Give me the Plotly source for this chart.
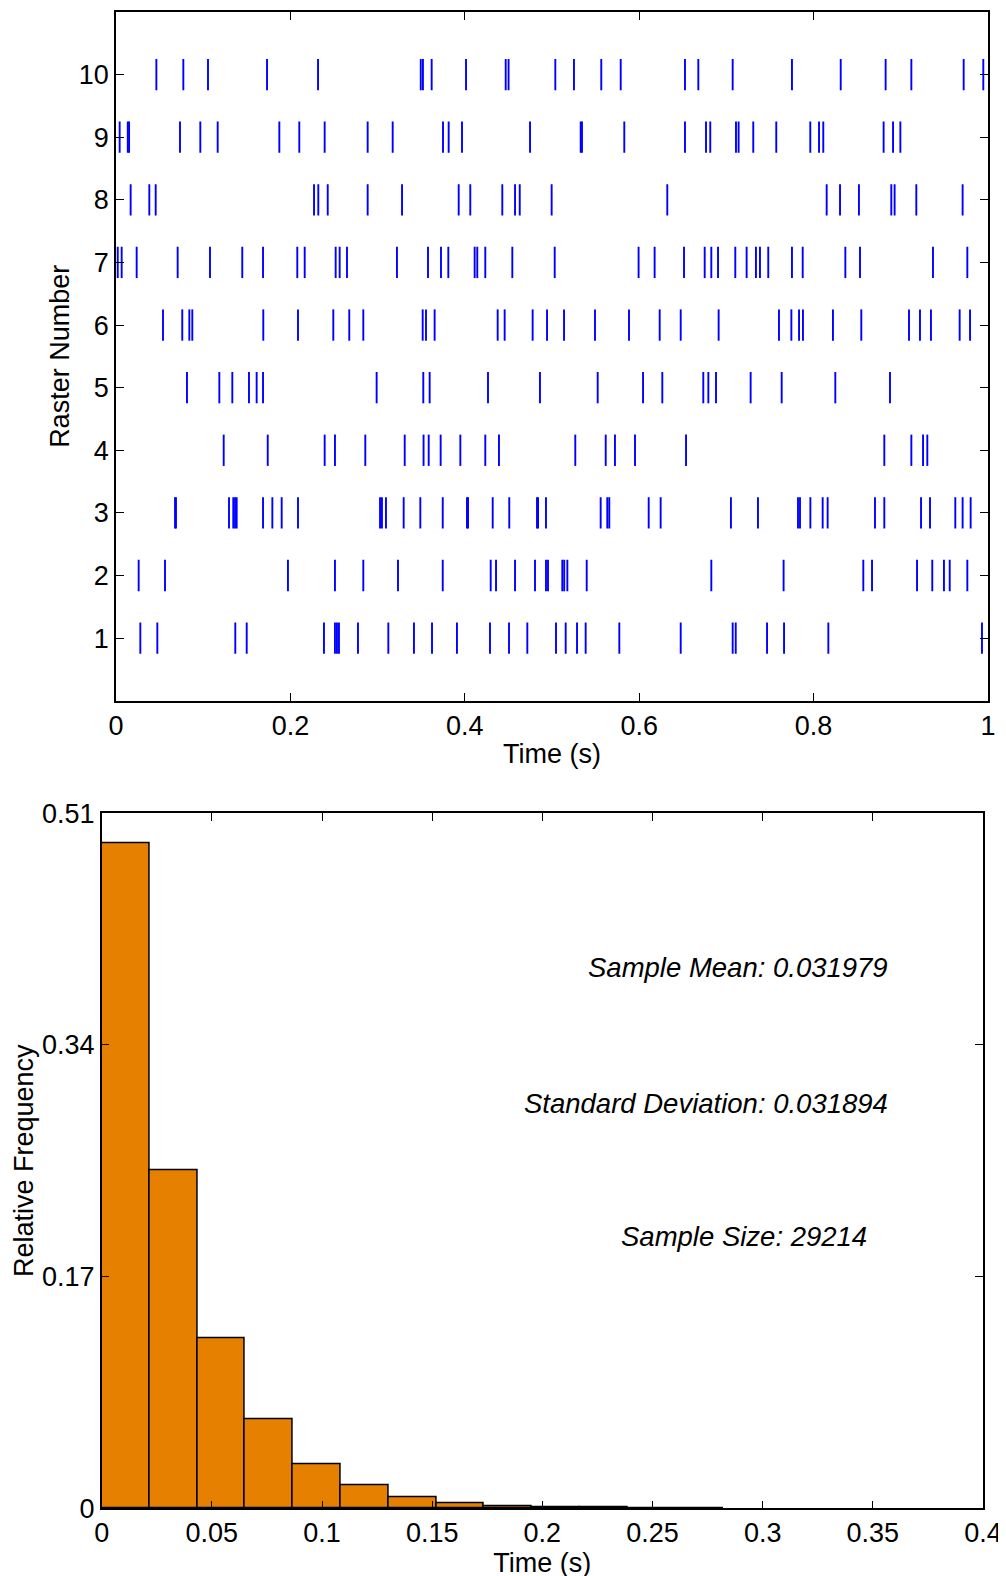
import plotly.graph_objects as go

# ---------------- Raster data (spike times, s) ----------------
raster_1 = [0.0279, 0.0474, 0.1368, 0.1499, 0.2385, 0.2511, 0.2534, 0.2557, 0.2775, 0.3123,
            0.3417, 0.3624, 0.3910, 0.4289, 0.4507, 0.4717, 0.5046, 0.5157, 0.5287, 0.5386,
            0.5772, 0.6476, 0.7072, 0.7107, 0.7466, 0.7661, 0.8169, 0.9931]
raster_2 = [0.0260, 0.0562, 0.1972, 0.2511, 0.2836, 0.3234, 0.3747, 0.4297, 0.4358, 0.4576,
            0.4805, 0.4931, 0.4954, 0.5118, 0.5140, 0.5176, 0.5398, 0.6827, 0.7656, 0.8570,
            0.8670, 0.9186, 0.9361, 0.9495, 0.9561, 0.9763]
raster_3 = [0.0677, 0.0688, 0.1296, 0.1345, 0.1365, 0.1384, 0.1686, 0.1793, 0.1900, 0.2087,
            0.3028, 0.3050, 0.3096, 0.3299, 0.3490, 0.3747, 0.4025, 0.4037, 0.4320, 0.4510,
            0.4828, 0.4840, 0.4931, 0.5558, 0.5634, 0.5657, 0.6109, 0.6246, 0.7052, 0.7362,
            0.7821, 0.7844, 0.7963, 0.8104, 0.8161, 0.8704, 0.8811, 0.9232, 0.9335, 0.9625,
            0.9709, 0.9801]
raster_4 = [0.1235, 0.1740, 0.2393, 0.2511, 0.2859, 0.3311, 0.3527, 0.3586, 0.3723, 0.3949,
            0.4235, 0.4392, 0.5267, 0.5616, 0.5722, 0.5952, 0.6537, 0.8811, 0.9121, 0.9255,
            0.9304]
raster_5 = [0.0814, 0.1185, 0.1334, 0.1525, 0.1613, 0.1686, 0.2989, 0.3524, 0.3597, 0.4266,
            0.4862, 0.5524, 0.6044, 0.6265, 0.6735, 0.6793, 0.6881, 0.7278, 0.7634, 0.8249,
            0.8876]
raster_6 = [0.0539, 0.0760, 0.0841, 0.0875, 0.1689, 0.2087, 0.2492, 0.2675, 0.2836, 0.3517,
            0.3555, 0.3654, 0.4377, 0.4457, 0.4778, 0.4943, 0.5138, 0.5493, 0.5883, 0.6235,
            0.6476, 0.6911, 0.7603, 0.7745, 0.7833, 0.7878, 0.8222, 0.8547, 0.9094, 0.9220,
            0.9346, 0.9675, 0.9794]
raster_7 = [0.0020, 0.0065, 0.0237, 0.0707, 0.1078, 0.1448, 0.1686, 0.2079, 0.2164, 0.2519,
            0.2565, 0.2649, 0.3222, 0.3578, 0.3727, 0.3811, 0.4113, 0.4143, 0.4235, 0.4545,
            0.5031, 0.5993, 0.6177, 0.6514, 0.6751, 0.6827, 0.6904, 0.7102, 0.7232, 0.7339,
            0.7385, 0.7480, 0.7752, 0.7875, 0.8364, 0.8532, 0.9369, 0.9763]
raster_8 = [0.0168, 0.0382, 0.0455, 0.2271, 0.2320, 0.2428, 0.2886, 0.3280, 0.3930, 0.4063,
            0.4430, 0.4576, 0.4630, 0.4996, 0.6322, 0.8150, 0.8303, 0.8520, 0.8891, 0.8929,
            0.9178, 0.9709]
raster_9 = [0.0042, 0.0135, 0.0150, 0.0734, 0.0967, 0.1166, 0.1873, 0.2102, 0.2393, 0.2886,
            0.3173, 0.3750, 0.3815, 0.3968, 0.4748, 0.5329, 0.5344, 0.5829, 0.6525, 0.6766,
            0.6815, 0.7110, 0.7140, 0.7308, 0.7572, 0.7962, 0.8062, 0.8111, 0.8803, 0.8911,
            0.8995]
raster_10 = [0.0463, 0.0772, 0.1055, 0.1732, 0.2317, 0.3495, 0.3520, 0.3620, 0.4014, 0.4469,
             0.4502, 0.5038, 0.5252, 0.5565, 0.5788, 0.6525, 0.6678, 0.7072, 0.7752, 0.8311,
             0.8826, 0.9121, 0.9721, 0.9946]
rasters = [raster_1, raster_2, raster_3, raster_4, raster_5,
           raster_6, raster_7, raster_8, raster_9, raster_10]
raster_ticks = [1, 2, 3, 4, 5, 6, 7, 8, 9, 10]

# ---------------- Histogram data ----------------
bin_width = 0.0217
rel_freq = [0.488, 0.248, 0.125, 0.065, 0.0325, 0.0169, 0.0081, 0.0034,
            0.0017, 0.0010, 0.0005, 0.0003, 0.0002]
hist_xticks = [0, 0.05, 0.1, 0.15, 0.2, 0.25, 0.3, 0.35, 0.4]
hist_xticklabels = ["0", "0.05", "0.1", "0.15", "0.2", "0.25", "0.3", "0.35", "0.4"]
hist_yticks = [0, 0.17, 0.34, 0.51]
hist_yticklabels = ["0", "0.17", "0.34", "0.51"]

FONT = "Liberation Sans, Arial, sans-serif"
FS = 27

W, H = 1006, 1576
OFF = 8  # page body margin


def px_x(a, b):
    return [(a - OFF) / W, (b - OFF) / W]


def px_y(top, bottom):
    return [1 - (bottom - OFF) / H, 1 - (top - OFF) / H]


fig = go.Figure()

# raster lines
for row, times in zip(raster_ticks, rasters):
    xs, ys = [], []
    for t in times:
        xs += [t, t, None]
        ys += [row - 0.25, row + 0.25, None]
    fig.add_trace(go.Scatter(x=xs, y=ys, mode="lines",
                             line=dict(color="#0000FF", width=1.9),
                             showlegend=False, hoverinfo="skip",
                             xaxis="x", yaxis="y"))

# histogram bars
centers = [(i + 0.5) * bin_width for i in range(len(rel_freq))]
fig.add_trace(go.Bar(x=centers, y=rel_freq, width=bin_width,
                     marker=dict(color="#E68000", line=dict(color="black", width=1.5)),
                     showlegend=False, hoverinfo="skip",
                     xaxis="x2", yaxis="y2"))

axis_common = dict(showline=True, linecolor="black", linewidth=1.5, mirror="ticks",
                   ticks="inside", ticklen=8, tickcolor="black", showgrid=False,
                   zeroline=False, automargin=False,
                   tickfont=dict(family=FONT, size=FS, color="black"))
title_font = dict(family=FONT, size=FS, color="black")

fig.update_layout(
    width=W, height=H,
    margin=dict(l=0, r=0, t=0, b=0, autoexpand=False),
    paper_bgcolor="white", plot_bgcolor="white",
    bargap=0,
    xaxis=dict(domain=px_x(116, 988), range=[0, 1], anchor="y",
               tickvals=[0, 0.2, 0.4, 0.6, 0.8, 1.0],
               ticktext=["0", "0.2", "0.4", "0.6", "0.8", "1"],
               title=dict(text="Time (s)", font=title_font, standoff=4),
               **axis_common),
    yaxis=dict(domain=px_y(12, 700.7), range=[0, 11], anchor="x",
               tickvals=raster_ticks, ticktext=[str(v) for v in raster_ticks],
               title=dict(text="Raster Number", font=title_font, standoff=1),
               **axis_common),
    xaxis2=dict(domain=px_x(101.7, 983), range=[0, 0.4], anchor="y2",
                tickvals=hist_xticks, ticktext=hist_xticklabels,
                title=dict(text="Time (s)", font=title_font, standoff=2),
                **axis_common),
    yaxis2=dict(domain=px_y(813.3, 1508.3), range=[0, 0.51], anchor="x2",
                tickvals=hist_yticks, ticktext=hist_yticklabels,
                title=dict(text="Relative Frequency", font=title_font, standoff=1),
                **axis_common),
)

ann_font = dict(family=FONT, size=27.5, color="black")
fig.add_annotation(x=0.358, y=0.3965, xref="x2", yref="y2", text="<i>Sample Mean: 0.031979</i>",
                   showarrow=False, xanchor="right", yanchor="middle", font=ann_font)
fig.add_annotation(x=0.358, y=0.2973, xref="x2", yref="y2", text="<i>Standard Deviation: 0.031894</i>",
                   showarrow=False, xanchor="right", yanchor="middle", font=ann_font)
fig.add_annotation(x=0.2914, y=0.1991, xref="x2", yref="y2", text="<i>Sample Size: 29214</i>",
                   showarrow=False, xanchor="center", yanchor="middle", font=ann_font)

fig.write_html("out.html")
